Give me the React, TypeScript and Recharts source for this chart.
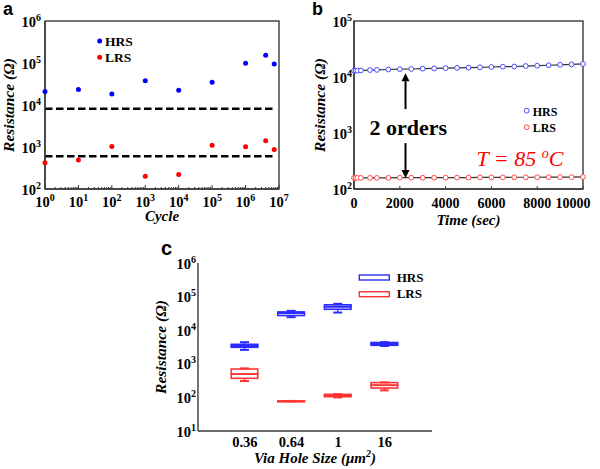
import {
  Bar,
  ComposedChart,
  Legend,
  Line,
  ReferenceDot,
  ReferenceLine,
  Scatter,
  ScatterChart,
  XAxis,
  YAxis,
} from "recharts";

const SERIF = '"Liberation Serif", "Times New Roman", serif';
const SANS = '"Liberation Sans", Arial, sans-serif';
const FRAME = "#3a3a3a";
const frameLine = { stroke: FRAME, strokeWidth: 1.4 };

// (a) endurance
const cycles = [1, 10, 100, 1e3, 1e4, 1e5, 1e6, 4e6, 7.2e6];
const hrsCycle = [21000, 23300, 18200, 37600, 22600, 35000, 99000, 153000, 95000];
const lrsCycle = [420, 490, 1030, 200, 220, 1100, 1020, 1410, 870];
const hrsLimit = 8100;
const lrsLimit = 600;
const limitEnd = 6.5e6;
const cycleTicks = [1, 10, 100, 1e3, 1e4, 1e5, 1e6, 1e7];
const resTicksA = [1e2, 1e3, 1e4, 1e5, 1e6];

// (b) retention at 85 C
const times = [0, 70, 150, 300, 700, 1000, 1500, 2000, 2500, 3000, 3500, 4000, 4500, 5000, 5500, 6000, 6500, 7000, 7500, 8000, 8500, 9000, 9500, 10000];
const hrsRet = [13000, 13000, 13000, 13100, 13300, 13400, 13600, 13800, 13900, 14100, 14200, 14400, 14600, 14700, 14900, 15100, 15300, 15400, 15700, 15900, 16200, 16500, 16800, 17100];
const lrsRet = [158, 158, 158, 158, 158, 158, 158, 159, 159, 159, 159, 160, 160, 160, 161, 161, 161, 162, 162, 162, 163, 163, 163, 164];
const timeTicks = [0, 2000, 4000, 6000, 8000, 10000];
const resTicksB = [1e2, 1e3, 1e4, 1e5];

// (c) via hole size
const viaSizes = ["0.36", "0.64", "1", "16"];
const hrsMin = [2600, 24400, 33500, 3400];
const hrsQ1 = [3100, 27300, 42000, 3550];
const hrsMed = [3460, 32000, 50000, 3900];
const hrsQ3 = [3800, 35000, 57000, 4300];
const hrsMax = [4400, 37700, 61000, 4400];
const lrsMin = [307, 76.5, 100, 162];
const lrsQ1 = [370, 77, 105, 190];
const lrsMed = [497, 77.5, 115, 230];
const lrsQ3 = [700, 78, 123, 275];
const lrsMax = [730, 78.5, 125, 280];
const resTicksC = [1e1, 1e2, 1e3, 1e4, 1e5, 1e6];

const BLUE = "#0000ff";
const RED = "#ff0000";
const BLUE_B = "#4a4aff";
const RED_B = "#ff4a4a";
const BLUE_C = "#2b2bff";
const RED_C = "#ff3333";

const tickText = { fontFamily: SERIF, fontWeight: 700, fontSize: 14.5, fill: "#000" };
const axisTitle = { fontFamily: SERIF, fontWeight: 700, fontStyle: "italic", fontSize: 15, fill: "#000" };
const legendText = { fontFamily: SERIF, fontWeight: 700, fill: "#000" };
const panelLetter = { position: "absolute" as const, fontFamily: SANS, fontWeight: 700, lineHeight: 1, color: "#000" };

const expOf = (v: number) => String(Math.round(Math.log10(v)));

function PowerText({ x, y, exp, anchor }: { x: number; y: number; exp: string; anchor: "start" | "middle" | "end" }) {
  return (
    <text x={x} y={y} textAnchor={anchor} style={tickText}>
      10
      <tspan dy={-6} fontSize={10}>
        {exp}
      </tspan>
    </text>
  );
}

const powerTickY = (gap: number) => (p: any) => (
  <PowerText x={p.x - gap} y={p.y + 5.5} exp={expOf(p.payload.value)} anchor="end" />
);

const yTitle = (x: number) => (p: any) => {
  const vb = p.viewBox;
  const cy = vb.y + vb.height / 2;
  return (
    <text x={x} y={cy} transform={`rotate(-90 ${x} ${cy})`} textAnchor="middle" style={{ ...axisTitle, fontSize: 15.5 }}>
      Resistance (Ω)
    </text>
  );
};

const xTitle = (dy: number, content: any) => (p: any) => {
  const vb = p.viewBox;
  return (
    <text x={vb.x + vb.width / 2} y={vb.y + dy} textAnchor="middle" style={axisTitle}>
      {content}
    </text>
  );
};

const minorCycleTicks = cycleTicks.slice(0, -1).flatMap((d) => [2, 3, 4, 5, 6, 7, 8, 9].map((m) => m * d));
const allCycleTicks = [...cycleTicks, ...minorCycleTicks].sort((a, b) => a - b);

const cycleTick = (p: any) => {
  const v = p.payload.value;
  const major = cycleTicks.includes(v);
  return (
    <g>
      <line x1={p.x} x2={p.x} y1={p.y} y2={p.y - (major ? 4 : 2)} stroke={FRAME} strokeWidth={1} />
      {major && <PowerText x={p.x} y={p.y + 18} exp={expOf(v)} anchor="middle" />}
    </g>
  );
};

const timeTick = (p: any) => {
  const last = p.index === timeTicks.length - 1;
  return (
    <g>
      <line x1={p.x} x2={p.x} y1={p.y} y2={p.y - 3} stroke={FRAME} strokeWidth={1} />
      <text x={last ? p.x - 10 : p.x} y={p.y + 19} textAnchor="middle" style={{ ...tickText, fontSize: 14 }}>
        {p.payload.value}
      </text>
    </g>
  );
};

const sizeTick = (p: any) => (
  <text x={p.x} y={p.y + 15.5} textAnchor="middle" style={tickText}>
    {p.payload.value}
  </text>
);

const Arrow = (p: any) => {
  const { x1, y1, x2, y2 } = p;
  const dir = y2 > y1 ? 1 : -1;
  const head = 8;
  return (
    <g>
      <line x1={x1} y1={y1} x2={x2} y2={y2 - dir * head} stroke="#000" strokeWidth={2} />
      <polygon points={`${x2},${y2} ${x2 - 4},${y2 - dir * head} ${x2 + 4},${y2 - dir * head}`} fill="#000" />
    </g>
  );
};

// plot frame drawn from the reference line's own start/end points
const FrameBox = (p: any) => (
  <rect
    x={Math.min(p.x1, p.x2)}
    y={Math.min(p.y1, p.y2)}
    width={Math.abs(p.x2 - p.x1)}
    height={Math.abs(p.y2 - p.y1)}
    fill="none"
    stroke={FRAME}
    strokeWidth={1.4}
  />
);

const dotShape = (color: string) => (p: any) => <circle cx={p.cx} cy={p.cy} r={2.5} fill={color} />;

const boxShape = (color: string) => (p: any) => (
  <rect x={p.x + 0.75} y={p.y} width={p.width - 1.5} height={Math.max(p.height, 0.5)} fill="none" stroke={color} strokeWidth={1.6} />
);

const whiskerShape = (color: string, capTop: boolean) => (p: any) => {
  const cx = p.x + p.width / 2;
  const capY = capTop ? p.y : p.y + p.height;
  return (
    <g>
      <line x1={cx} x2={cx} y1={p.y} y2={p.y + p.height} stroke={color} strokeWidth={1.2} />
      <line x1={cx - 4.5} x2={cx + 4.5} y1={capY} y2={capY} stroke={color} strokeWidth={2} />
    </g>
  );
};

function PanelA() {
  const hrsPts = cycles.map((c, i) => ({ cycle: c, r: hrsCycle[i] }));
  const lrsPts = cycles.map((c, i) => ({ cycle: c, r: lrsCycle[i] }));
  return (
    <ScatterChart width={300} height={230} margin={{ top: 21, right: 21, bottom: 0, left: 0 }}>
      <XAxis
        type="number"
        dataKey="cycle"
        scale="log"
        domain={[1, 1e7]}
        ticks={allCycleTicks}
        interval={0}
        height={41}
        axisLine={frameLine}
        tickLine={false}
        tickSize={0}
        tickMargin={0}
        tick={cycleTick}
        label={xTitle(32, "Cycle")}
      />
      <YAxis
        type="number"
        dataKey="r"
        scale="log"
        domain={[100, 1e6]}
        ticks={resTicksA}
        interval={0}
        width={45}
        axisLine={frameLine}
        tickLine={false}
        tickSize={0}
        tickMargin={0}
        tick={powerTickY(4)}
        label={yTitle(14)}
      />
      <ReferenceLine segment={[{ x: 1, y: 100 }, { x: 1e7, y: 1e6 }]} ifOverflow="visible" shape={FrameBox} />
      <ReferenceLine segment={[{ x: 1, y: hrsLimit }, { x: limitEnd, y: hrsLimit }]} stroke="#000" strokeWidth={2.5} strokeDasharray="7.5 3.5" />
      <ReferenceLine segment={[{ x: 1, y: lrsLimit }, { x: limitEnd, y: lrsLimit }]} stroke="#000" strokeWidth={2.5} strokeDasharray="7.5 3.5" />
      <Scatter name="HRS" data={hrsPts} fill={BLUE} shape={dotShape(BLUE)} isAnimationActive={false} />
      <Scatter name="LRS" data={lrsPts} fill={RED} shape={dotShape(RED)} isAnimationActive={false} />
      <Legend
        layout="horizontal"
        verticalAlign="middle"
        wrapperStyle={{ position: "absolute", left: 90, top: 30, width: 60, height: 40 }}
        content={() => (
          <svg width={60} height={40}>
            <circle cx={9.7} cy={11} r={2.5} fill={BLUE} />
            <text x={15} y={15.7} fontSize={13.5} style={legendText}>HRS</text>
            <circle cx={9.7} cy={27.3} r={2.5} fill={RED} />
            <text x={15} y={32} fontSize={13.5} style={legendText}>LRS</text>
          </svg>
        )}
      />
    </ScatterChart>
  );
}

function PanelB() {
  const rows = times.map((t, i) => ({ t, hrs: hrsRet[i], lrs: lrsRet[i] }));
  return (
    <ComposedChart width={300} height={230} data={rows} margin={{ top: 21, right: 17, bottom: 0, left: 0 }}>
      <XAxis
        type="number"
        dataKey="t"
        domain={[0, 10000]}
        ticks={timeTicks}
        interval={0}
        height={41}
        axisLine={frameLine}
        tickLine={false}
        tickSize={0}
        tickMargin={0}
        tick={timeTick}
        label={xTitle(36, "Time (sec)")}
      />
      <YAxis
        type="number"
        scale="log"
        domain={[100, 1e5]}
        ticks={resTicksB}
        interval={0}
        width={54}
        axisLine={frameLine}
        tickLine={false}
        tickSize={0}
        tickMargin={0}
        tick={powerTickY(2)}
        label={yTitle(25)}
      />
      <ReferenceLine segment={[{ x: 0, y: 100 }, { x: 10000, y: 1e5 }]} ifOverflow="visible" shape={FrameBox} />
      <Line dataKey="hrs" name="HRS" stroke="#333" strokeWidth={1.2} dot={{ r: 2.4, stroke: BLUE_B, strokeWidth: 1, fill: "#fff" }} isAnimationActive={false} />
      <Line dataKey="lrs" name="LRS" stroke="#333" strokeWidth={1.2} dot={{ r: 2.4, stroke: RED_B, strokeWidth: 1, fill: "#fff" }} isAnimationActive={false} />
      <ReferenceLine segment={[{ x: 2250, y: 2670 }, { x: 2250, y: 11700 }]} shape={Arrow} />
      <ReferenceLine segment={[{ x: 2250, y: 660 }, { x: 2250, y: 158 }]} shape={Arrow} />
      <ReferenceDot
        x={2370}
        y={929}
        r={0}
        label={{
          content: (lp: any) => (
            <text x={lp.viewBox.x} y={lp.viewBox.y} textAnchor="middle" style={{ fontFamily: SERIF, fontWeight: 700, fontSize: 22, fill: "#000" }}>
              2 orders
            </text>
          ),
        }}
      />
      <ReferenceDot
        x={5350}
        y={260}
        r={0}
        label={{
          content: (lp: any) => (
            <text x={lp.viewBox.x} y={lp.viewBox.y} textAnchor="start" style={{ fontFamily: SERIF, fontStyle: "italic", fontSize: 22, fill: RED }}>
              T = 85 <tspan dy={-8} fontSize={14}>o</tspan>
              <tspan dy={8}>C</tspan>
            </text>
          ),
        }}
      />
      <Legend
        layout="horizontal"
        verticalAlign="middle"
        wrapperStyle={{ position: "absolute", left: 218, top: 100, width: 50, height: 40 }}
        content={() => (
          <svg width={50} height={40}>
            <circle cx={8.7} cy={10.7} r={2.4} fill="#fff" stroke={BLUE_B} />
            <text x={14.7} y={16} fontSize={12} style={legendText}>HRS</text>
            <circle cx={8.7} cy={27.3} r={2.4} fill="#fff" stroke={RED_B} />
            <text x={14.7} y={32.3} fontSize={12} style={legendText}>LRS</text>
          </svg>
        )}
      />
    </ComposedChart>
  );
}

function PanelC() {
  const rows = viaSizes.map((size, i) => ({
    size,
    hrsLow: [hrsMin[i], hrsQ1[i]],
    hrsBoxLow: [hrsQ1[i], hrsMed[i]],
    hrsBoxHigh: [hrsMed[i], hrsQ3[i]],
    hrsHigh: [hrsQ3[i], hrsMax[i]],
    lrsLow: [lrsMin[i], lrsQ1[i]],
    lrsBoxLow: [lrsQ1[i], lrsMed[i]],
    lrsBoxHigh: [lrsMed[i], lrsQ3[i]],
    lrsHigh: [lrsQ3[i], lrsMax[i]],
  }));
  return (
    <ComposedChart width={300} height={239} data={rows} barSize={28} barGap={-28} margin={{ top: 33, right: 18, bottom: 0, left: 0 }}>
      <XAxis
        dataKey="size"
        type="category"
        padding={{ left: 23.5, right: 24 }}
        height={38}
        axisLine={frameLine}
        tickLine={false}
        tickSize={0}
        tickMargin={0}
        interval={0}
        tick={sizeTick}
        label={xTitle(32, (
          <>
            Via Hole Size (μm<tspan dy={-6} fontSize={10}>2</tspan>
            <tspan dy={6}>)</tspan>
          </>
        ))}
      />
      <XAxis xAxisId="top" orientation="top" dataKey="size" height={0} tick={false} tickLine={false} axisLine={frameLine} />
      <YAxis
        type="number"
        scale="log"
        domain={[10, 1e6]}
        allowDataOverflow
        ticks={resTicksC}
        interval={0}
        width={48}
        axisLine={frameLine}
        tickLine={false}
        tickSize={0}
        tickMargin={0}
        tick={powerTickY(2)}
        label={yTitle(16)}
      />
      <YAxis yAxisId="right" orientation="right" width={0} tick={false} tickLine={false} axisLine={frameLine} />
      <Bar dataKey="hrsLow" shape={whiskerShape(BLUE_C, false)} isAnimationActive={false} />
      <Bar dataKey="hrsHigh" shape={whiskerShape(BLUE_C, true)} isAnimationActive={false} />
      <Bar dataKey="hrsBoxLow" shape={boxShape(BLUE_C)} isAnimationActive={false} />
      <Bar dataKey="hrsBoxHigh" shape={boxShape(BLUE_C)} isAnimationActive={false} />
      <Bar dataKey="lrsLow" shape={whiskerShape(RED_C, false)} isAnimationActive={false} />
      <Bar dataKey="lrsHigh" shape={whiskerShape(RED_C, true)} isAnimationActive={false} />
      <Bar dataKey="lrsBoxLow" shape={boxShape(RED_C)} isAnimationActive={false} />
      <Bar dataKey="lrsBoxHigh" shape={boxShape(RED_C)} isAnimationActive={false} />
      <Legend
        layout="horizontal"
        verticalAlign="middle"
        wrapperStyle={{ position: "absolute", left: 205, top: 40, width: 80, height: 35 }}
        content={() => (
          <svg width={80} height={35}>
            <rect x={4.3} y={5} width={30} height={5} fill="none" stroke={BLUE_C} strokeWidth={1.4} />
            <text x={41.7} y={11.7} fontSize={13} style={legendText}>HRS</text>
            <rect x={4.3} y={21.7} width={30} height={5} fill="none" stroke={RED_C} strokeWidth={1.4} />
            <text x={41.7} y={27.7} fontSize={13} style={legendText}>LRS</text>
          </svg>
        )}
      />
    </ComposedChart>
  );
}

export default function App() {
  return (
    <div style={{ position: "absolute", left: 0, top: 0, width: 600, height: 469, background: "#fff" }}>
      <div style={{ position: "absolute", left: 0, top: 0 }}>
        <PanelA />
      </div>
      <div style={{ position: "absolute", left: 300, top: 0 }}>
        <PanelB />
      </div>
      <div style={{ position: "absolute", left: 150, top: 230 }}>
        <PanelC />
      </div>
      <div style={{ ...panelLetter, left: 3, top: 0, fontSize: 18 }}>a</div>
      <div style={{ ...panelLetter, left: 312, top: 0, fontSize: 18 }}>b</div>
      <div style={{ ...panelLetter, left: 161, top: 238, fontSize: 20 }}>c</div>
    </div>
  );
}
